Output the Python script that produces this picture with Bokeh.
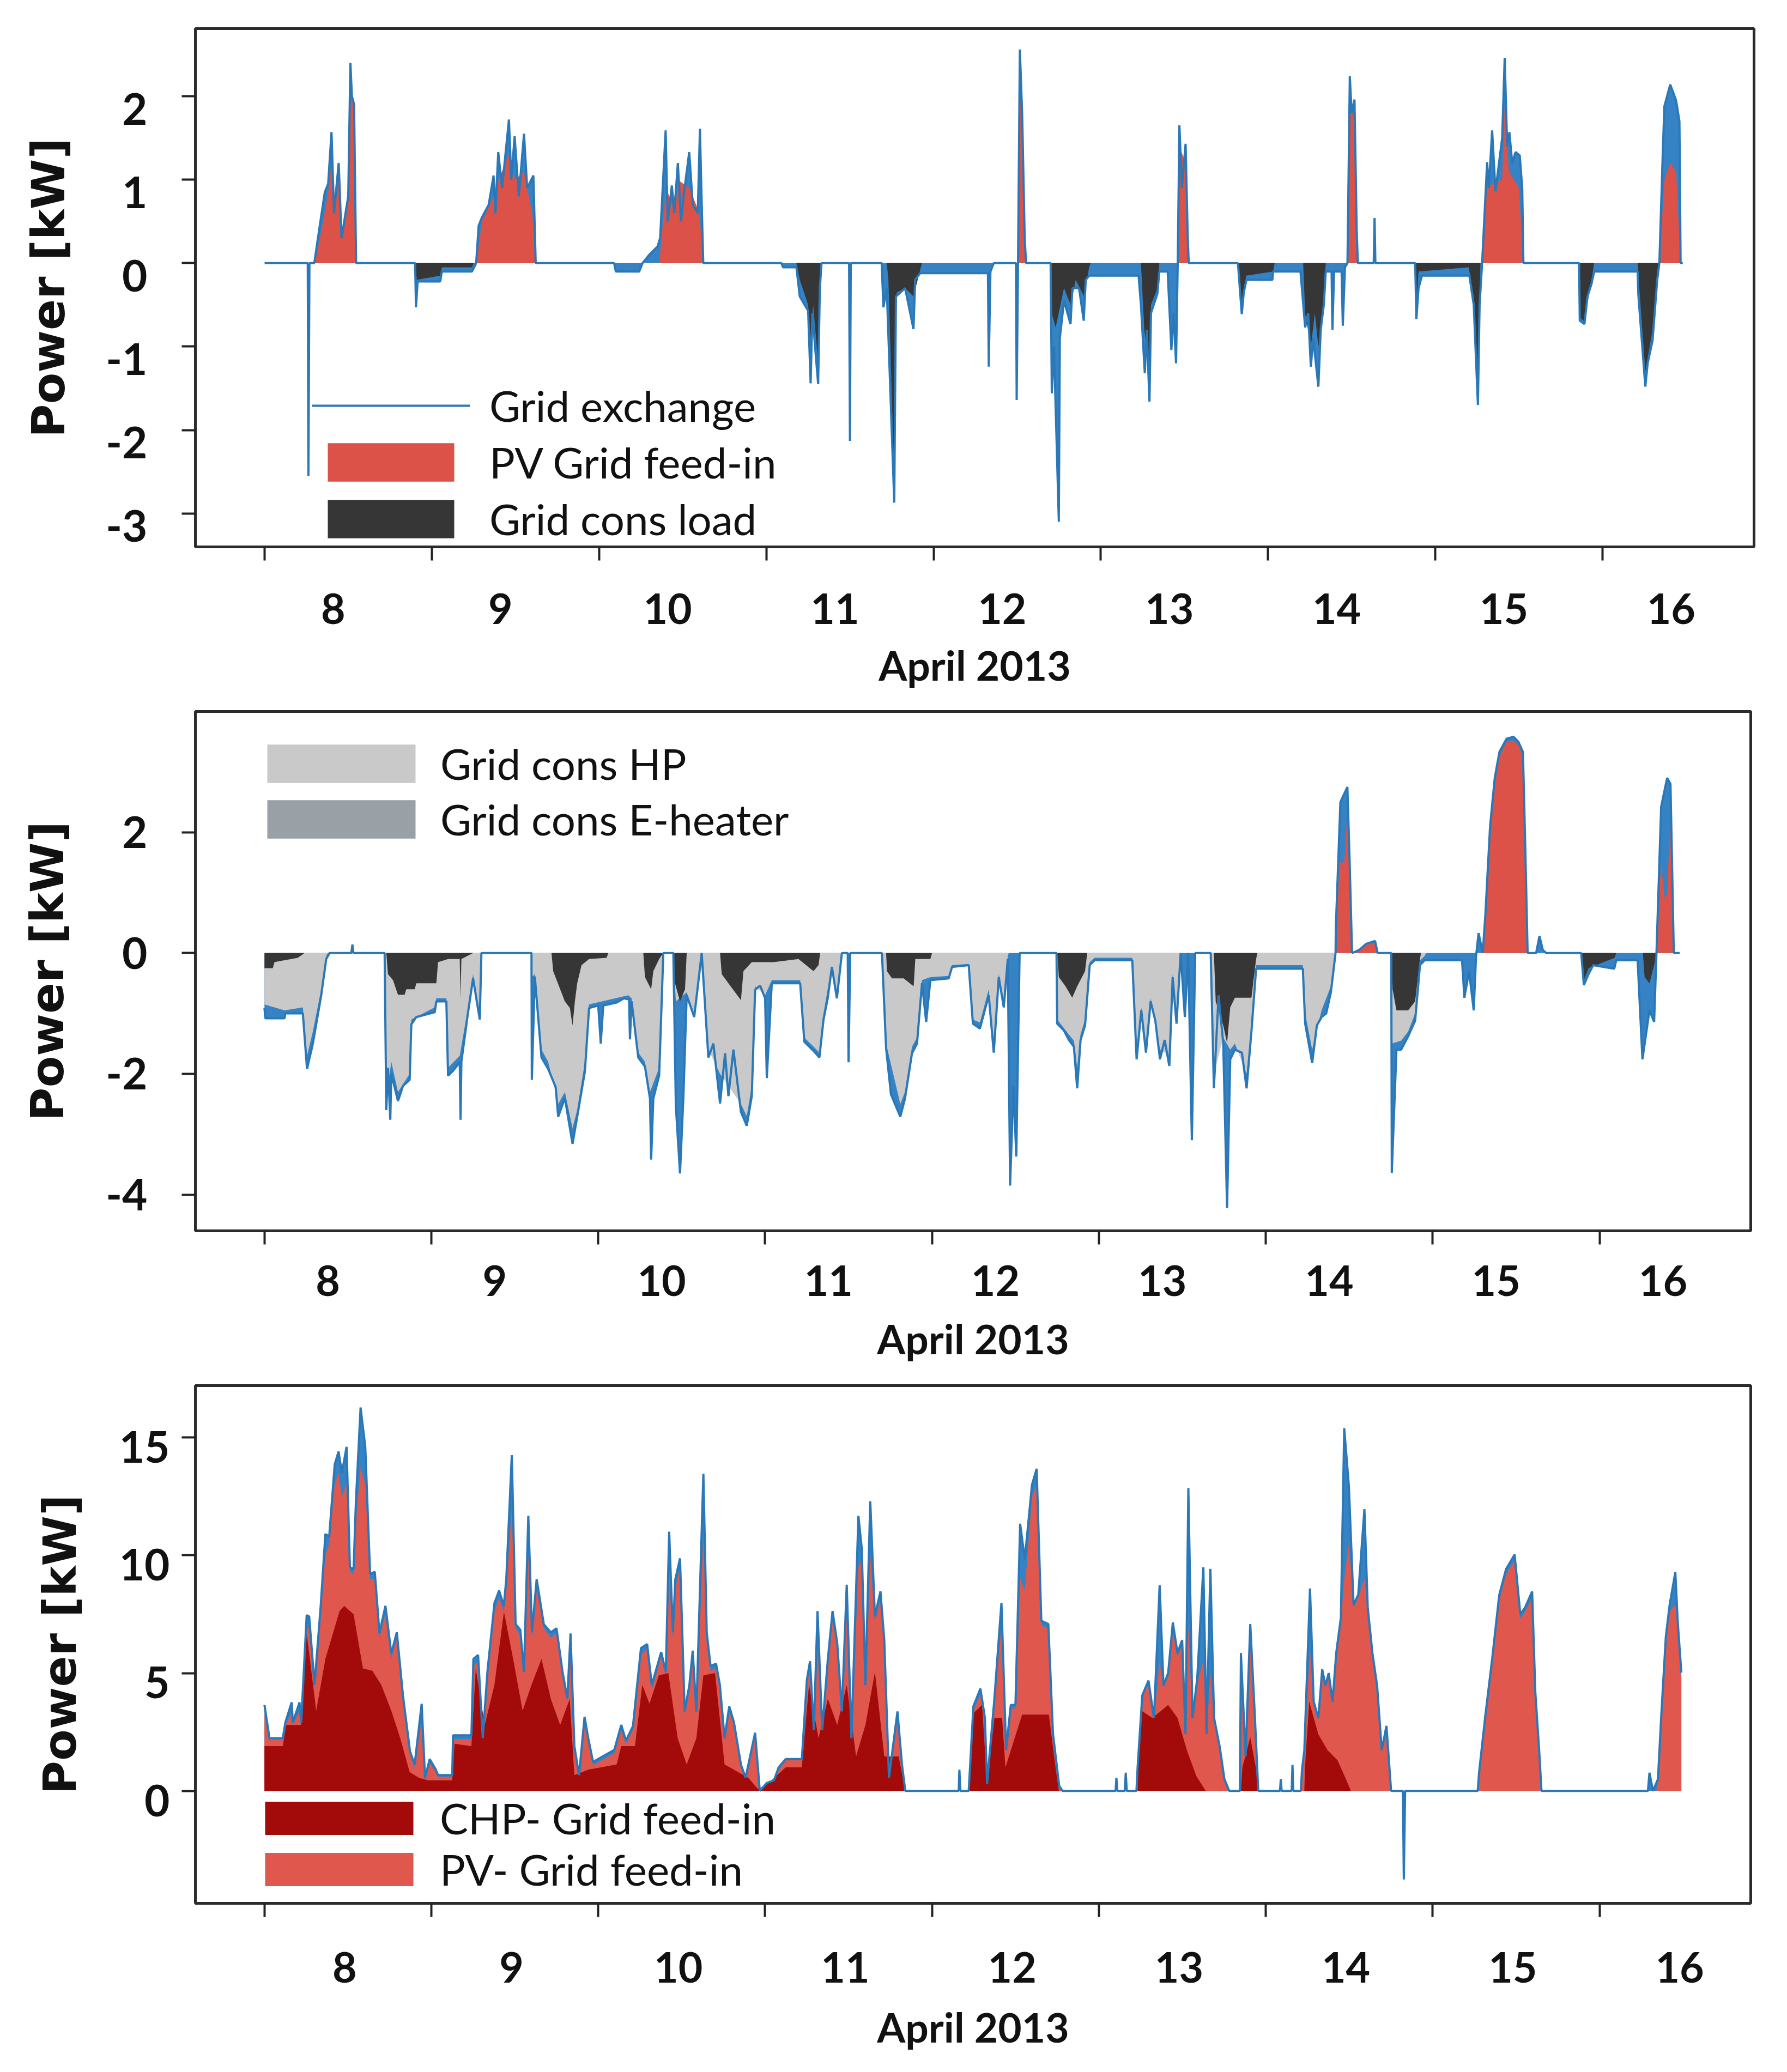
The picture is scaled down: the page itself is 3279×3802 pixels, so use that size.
from bokeh.plotting import figure
from bokeh.layouts import column
from bokeh.models import (FixedTicker, CustomJSTickFormatter, Legend, LegendItem,
                          ColumnDataSource, Range1d)
from bokeh.embed import file_html
from bokeh.resources import INLINE

# ---------------- data (time in days of April 2013, power in kW) ----------------
DAYS = [8, 9, 10, 11, 12, 13, 14, 15, 16]

TOP_EXCHANGE = [(8.00,0),(8.258,0),(8.262,-2.55),(8.268,0),(8.297,0),(8.33,0.45),(8.36,0.85),(8.38,0.95),(8.40,1.57),(8.415,0.6),(8.443,1.2),(8.46,0.3),(8.50,0.8),(8.513,2.40),(8.522,2.0),(8.535,1.9),(8.547,0),(8.90,0),(8.905,-0.53),(8.915,-0.22),(9.05,-0.22),(9.06,-0.1),(9.24,-0.1),(9.265,0),(9.28,0.45),(9.30,0.55),(9.34,0.7),(9.369,1.05),(9.38,0.6),(9.397,1.33),(9.42,0.9),(9.461,1.72),(9.475,1.0),(9.495,1.52),(9.52,0.8),(9.551,1.55),(9.57,0.9),(9.607,1.05),(9.621,0),(10.09,0),(10.10,-0.1),(10.24,-0.1),(10.26,0),(10.30,0.1),(10.35,0.2),(10.365,0.3),(10.398,1.59),(10.41,0.5),(10.435,0.93),(10.45,0.6),(10.471,1.2),(10.49,0.5),(10.505,0.8),(10.539,1.33),(10.56,0.7),(10.59,0.6),(10.603,1.61),(10.615,0.6),(10.623,0),(11.09,0),(11.10,-0.05),(11.18,-0.05),(11.20,-0.4),(11.25,-0.57),(11.265,-1.44),(11.275,-0.6),(11.31,-1.45),(11.32,-0.3),(11.33,0),(11.495,0),(11.50,-2.13),(11.505,0),(11.69,0),(11.70,-0.53),(11.72,-0.3),(11.765,-2.87),(11.775,-0.4),(11.83,-0.3),(11.88,-0.79),(11.89,-0.2),(11.92,-0.12),(12.325,-0.12),(12.33,-1.24),(12.34,-0.1),(12.36,0),(12.493,0),(12.497,-1.64),(12.505,0),(12.516,2.56),(12.53,1.77),(12.545,0.3),(12.553,0),(12.70,0),(12.707,-1.56),(12.72,-1.0),(12.749,-3.1),(12.755,-0.9),(12.78,-0.45),(12.819,-0.73),(12.83,-0.3),(12.87,-0.3),(12.898,-0.69),(12.91,-0.2),(12.931,-0.15),(13.226,-0.15),(13.24,-0.5),(13.263,-1.32),(13.275,-0.8),(13.291,-1.66),(13.30,-0.6),(13.338,-0.37),(13.35,-0.1),(13.40,-0.1),(13.422,-1.04),(13.435,-0.6),(13.45,-1.2),(13.46,0),(13.47,1.65),(13.485,0.9),(13.507,1.43),(13.52,0.3),(13.526,0),(13.82,0),(13.843,-0.61),(13.855,-0.35),(13.871,-0.2),(14.026,-0.2),(14.03,-0.1),(14.194,-0.1),(14.222,-0.77),(14.24,-0.6),(14.256,-1.24),(14.27,-0.9),(14.301,-1.48),(14.315,-0.8),(14.334,-0.49),(14.345,-0.1),(14.38,-0.1),(14.385,-0.8),(14.395,-0.1),(14.44,-0.1),(14.447,-0.75),(14.46,-0.05),(14.475,0),(14.489,2.24),(14.50,1.8),(14.517,1.96),(14.53,0.4),(14.537,0),(14.632,0),(14.637,0.54),(14.642,0),(14.88,0),(14.887,-0.67),(14.90,-0.3),(14.92,-0.15),(15.204,-0.15),(15.23,-0.5),(15.255,-1.70),(15.265,-0.5),(15.28,0),(15.29,0.4),(15.31,1.21),(15.32,0.9),(15.34,1.59),(15.36,0.86),(15.40,1.5),(15.415,2.46),(15.43,1.4),(15.443,1.57),(15.46,1.2),(15.48,1.33),(15.505,1.29),(15.52,0.9),(15.527,0),(15.86,0),(15.864,-0.69),(15.892,-0.73),(15.91,-0.4),(15.934,-0.25),(15.95,-0.1),(16.21,-0.1),(16.214,-0.37),(16.256,-1.48),(16.27,-1.2),(16.299,-0.93),(16.327,-0.2),(16.34,0),(16.36,1.3),(16.37,1.88),(16.405,2.14),(16.44,1.95),(16.46,1.7),(16.467,0),(16.48,0)]

TOP_PV_FEEDIN = [(8.30,0),(8.35,0.5),(8.38,0.85),(8.40,1.2),(8.42,0.6),(8.443,1.1),(8.46,0.3),(8.50,0.7),(8.513,2.2),(8.535,1.8),(8.547,0),(9.265,0),(9.30,0.5),(9.37,0.8),(9.40,1.0),(9.46,1.3),(9.50,1.0),(9.55,1.1),(9.60,0.6),(9.621,0),(10.36,0),(10.40,0.9),(10.44,0.7),(10.47,1.0),(10.54,0.9),(10.60,0.6),(10.623,0),(12.505,0),(12.516,2.3),(12.53,1.5),(12.553,0),(13.46,0),(13.47,1.4),(13.507,1.2),(13.526,0),(14.475,0),(14.489,2.0),(14.517,1.7),(14.537,0),(15.28,0),(15.30,0.9),(15.34,0.95),(15.40,1.0),(15.415,1.9),(15.44,1.1),(15.50,0.9),(15.527,0),(16.34,0),(16.37,1.0),(16.405,1.2),(16.44,1.1),(16.467,0)]

TOP_CONS_LOAD = [(8.90,0),(8.91,-0.2),(9.05,-0.15),(9.06,-0.05),(9.24,-0.05),(9.25,0),(11.18,0),(11.20,-0.2),(11.25,-0.5),(11.265,-0.9),(11.28,-0.5),(11.31,-1.2),(11.32,-0.2),(11.33,0),(11.72,0),(11.73,-0.2),(11.765,-2.6),(11.78,-0.35),(11.83,-0.3),(11.88,-0.4),(11.92,-0.08),(11.93,0),(12.70,0),(12.707,-0.6),(12.73,-0.77),(12.78,-0.3),(12.82,-0.5),(12.85,-0.2),(12.90,-0.4),(12.93,-0.05),(12.94,0),(13.24,0),(13.26,-0.8),(13.29,-1.3),(13.30,-0.5),(13.34,-0.3),(13.35,0),(13.82,0),(13.843,-0.45),(13.87,-0.15),(14.03,-0.1),(14.04,0),(14.21,0),(14.222,-0.6),(14.256,-1.0),(14.28,-0.6),(14.301,-1.0),(14.334,-0.4),(14.345,0),(14.88,0),(14.887,-0.5),(14.90,-0.1),(15.20,-0.05),(15.23,-0.4),(15.255,-1.3),(15.27,0),(15.86,0),(15.864,-0.65),(15.892,-0.7),(15.934,-0.2),(15.95,0),(16.21,0),(16.22,-0.3),(16.256,-1.3),(16.299,-0.8),(16.327,-0.15),(16.34,0)]

MID_EXCHANGE = [(8.00,-0.91),(8.005,-1.08),(8.12,-1.08),(8.125,-1.0),(8.23,-1.0),(8.255,-1.92),(8.29,-1.5),(8.34,-0.7),(8.37,-0.1),(8.39,0),(8.52,0),(8.527,0.14),(8.533,0),(8.72,0),(8.73,-2.6),(8.74,-1.9),(8.754,-2.76),(8.76,-2.0),(8.80,-2.45),(8.83,-2.2),(8.87,-2.1),(8.88,-1.18),(8.91,-1.06),(9.02,-0.98),(9.03,-0.8),(9.09,-0.8),(9.10,-2.03),(9.13,-1.95),(9.17,-1.81),(9.175,-2.76),(9.18,-1.8),(9.22,-0.98),(9.25,-0.42),(9.29,-1.1),(9.30,0),(9.60,0),(9.602,-2.1),(9.62,-0.39),(9.66,-1.73),(9.70,-1.92),(9.745,-2.22),(9.76,-2.71),(9.80,-2.4),(9.846,-3.16),(9.874,-2.71),(9.92,-1.96),(9.945,-0.91),(10.0,-0.87),(10.015,-1.5),(10.03,-0.87),(10.11,-0.82),(10.155,-0.75),(10.185,-0.77),(10.19,-1.43),(10.20,-0.8),(10.24,-1.73),(10.28,-1.88),(10.31,-2.41),(10.317,-3.42),(10.33,-2.41),(10.365,-2.03),(10.39,0),(10.45,0),(10.465,-2.53),(10.49,-3.65),(10.51,-2.4),(10.53,-0.7),(10.575,-1.06),(10.62,0),(10.66,-1.73),(10.69,-1.5),(10.73,-2.49),(10.76,-1.66),(10.78,-2.37),(10.81,-1.6),(10.855,-2.63),(10.89,-2.86),(10.92,-2.37),(10.94,-0.61),(10.97,-0.54),(11.0,-0.75),(11.01,-2.07),(11.04,-0.5),(11.21,-0.5),(11.235,-1.47),(11.29,-1.62),(11.325,-1.73),(11.35,-1.1),(11.375,-0.75),(11.40,-0.23),(11.43,-0.75),(11.46,0),(11.495,0),(11.50,-1.81),(11.51,0),(11.70,0),(11.725,-1.58),(11.754,-2.34),(11.81,-2.71),(11.838,-2.41),(11.88,-1.66),(11.91,-1.5),(11.94,-0.5),(11.965,-1.14),(11.99,-0.45),(12.10,-0.42),(12.12,-0.23),(12.22,-0.2),(12.245,-1.17),(12.287,-1.25),(12.34,-0.7),(12.37,-1.65),(12.40,-0.4),(12.43,-0.9),(12.454,-0.1),(12.468,-3.85),(12.488,-2.2),(12.505,-3.37),(12.525,0),(12.746,0),(12.75,-1.17),(12.79,-1.28),(12.82,-1.44),(12.85,-1.55),(12.87,-2.24),(12.89,-1.44),(12.917,-1.2),(12.945,-0.2),(12.974,-0.12),(13.20,-0.12),(13.226,-1.76),(13.254,-0.95),(13.282,-1.65),(13.31,-0.8),(13.338,-1.12),(13.366,-1.76),(13.394,-1.44),(13.422,-1.87),(13.442,-0.4),(13.465,-1.17),(13.49,0),(13.515,-1.06),(13.535,0),(13.557,-3.1),(13.577,0),(13.67,0),(13.689,-2.24),(13.717,-0.7),(13.745,-1.49),(13.768,-4.22),(13.787,-1.76),(13.815,-1.6),(13.857,-1.65),(13.885,-2.24),(13.914,-1.3),(13.942,-0.26),(14.222,-0.26),(14.236,-1.17),(14.278,-1.82),(14.306,-1.2),(14.334,-1.06),(14.362,-1.0),(14.39,-0.65),(14.418,0),(14.42,0.44),(14.447,2.5),(14.489,2.75),(14.503,1.46),(14.517,0),(14.56,0.05),(14.60,0.15),(14.655,0.2),(14.67,0),(14.752,0),(14.755,-3.64),(14.783,-1.6),(14.811,-1.6),(14.853,-1.38),(14.895,-1.12),(14.924,-0.2),(14.952,-0.12),(15.176,-0.12),(15.19,-0.74),(15.218,-0.3),(15.246,-0.95),(15.26,-0.05),(15.275,0.33),(15.30,0),(15.316,0.65),(15.344,2.1),(15.372,2.9),(15.40,3.33),(15.443,3.55),(15.485,3.58),(15.513,3.5),(15.541,3.33),(15.555,1.73),(15.569,0),(15.62,0),(15.64,0.28),(15.66,0.05),(15.68,0),(15.89,0),(15.906,-0.53),(15.934,-0.35),(15.962,-0.2),(16.088,-0.26),(16.10,-0.12),(16.228,-0.12),(16.257,-1.76),(16.299,-0.95),(16.327,-1.14),(16.341,0),(16.369,2.42),(16.405,2.9),(16.425,2.8),(16.445,0),(16.48,0)]

# lower edge of the light-grey heat-pump band (stacked below the E-heater band)
MID_CONS_HP = [(8.00,-0.85),(8.12,-0.95),(8.23,-0.9),(8.255,-1.7),(8.29,-1.3),(8.34,-0.6),(8.37,-0.05),(8.38,0),(8.72,0),(8.73,-2.4),(8.76,-1.8),(8.80,-2.3),(8.87,-2.0),(8.88,-1.1),(9.02,-0.9),(9.03,-0.75),(9.09,-0.75),(9.10,-1.9),(9.17,-1.7),(9.22,-0.9),(9.25,-0.35),(9.29,-1.0),(9.30,0),(9.60,0),(9.602,-0.4),(9.62,-0.35),(9.66,-1.6),(9.70,-1.8),(9.76,-2.5),(9.80,-2.3),(9.846,-2.9),(9.874,-2.6),(9.92,-1.8),(9.945,-0.85),(10.18,-0.7),(10.20,-0.75),(10.24,-1.65),(10.28,-1.8),(10.31,-2.3),(10.365,-1.9),(10.39,0),(10.45,0),(10.465,-0.8),(10.53,-0.65),(10.575,-1.0),(10.62,0),(10.66,-1.6),(10.73,-2.0),(10.78,-2.2),(10.855,-2.5),(10.89,-2.7),(10.92,-2.2),(10.94,-0.55),(11.0,-0.7),(11.04,-0.45),(11.21,-0.45),(11.235,-1.4),(11.29,-1.55),(11.325,-1.65),(11.35,-1.0),(11.40,-0.2),(11.43,-0.7),(11.46,0),(11.70,0),(11.725,-1.5),(11.81,-2.5),(11.838,-2.3),(11.88,-1.55),(11.91,-1.4),(11.94,-0.45),(11.99,-0.4),(12.10,-0.38),(12.12,-0.2),(12.22,-0.18),(12.245,-1.1),(12.287,-1.15),(12.34,-0.6),(12.37,-1.5),(12.40,-0.35),(12.43,-0.8),(12.454,-0.05),(12.46,0),(12.746,0),(12.75,-1.1),(12.82,-1.35),(12.85,-1.45),(12.87,-1.9),(12.89,-1.35),(12.917,-1.1),(12.945,-0.15),(12.974,-0.08),(13.20,-0.08),(13.226,-1.6),(13.254,-0.9),(13.282,-1.5),(13.31,-0.75),(13.366,-1.6),(13.422,-1.7),(13.442,-0.35),(13.465,-1.0),(13.49,0),(13.67,0),(13.689,-2.0),(13.745,-1.4),(13.787,-1.6),(13.815,-1.5),(13.885,-2.0),(13.914,-1.2),(13.942,-0.2),(14.222,-0.2),(14.236,-1.0),(14.278,-1.6),(14.334,-0.95),(14.39,-0.55),(14.418,0),(14.752,0),(14.755,-1.5),(14.811,-1.45),(14.853,-1.3),(14.895,-1.0),(14.924,-0.12),(14.952,-0.05),(14.96,0)]

MID_CONS_EHEATER = [(8.00,-0.25),(8.05,-0.25),(8.06,-0.15),(8.12,-0.12),(8.20,-0.08),(8.24,0),(8.73,0),(8.74,-0.35),(8.77,-0.45),(8.80,-0.69),(8.84,-0.69),(8.85,-0.6),(8.90,-0.6),(8.91,-0.5),(9.03,-0.5),(9.04,-0.15),(9.10,-0.1),(9.17,-0.1),(9.175,-0.75),(9.18,-0.1),(9.25,0),(9.72,0),(9.73,-0.3),(9.80,-0.8),(9.83,-0.91),(9.846,-1.2),(9.86,-0.8),(9.874,-0.5),(9.90,-0.2),(9.945,-0.1),(10.05,-0.08),(10.06,0),(10.27,0),(10.28,-0.4),(10.317,-0.6),(10.33,-0.3),(10.365,-0.1),(10.39,0),(10.45,0),(10.46,-0.5),(10.49,-0.8),(10.52,-0.6),(10.53,0),(10.73,0),(10.74,-0.35),(10.78,-0.5),(10.855,-0.78),(10.87,-0.3),(10.92,-0.15),(11.05,-0.15),(11.20,-0.1),(11.29,-0.3),(11.32,-0.2),(11.33,0),(11.725,0),(11.73,-0.3),(11.76,-0.42),(11.83,-0.42),(11.89,-0.55),(11.90,-0.1),(11.99,-0.1),(12.0,0),(12.75,0),(12.76,-0.4),(12.80,-0.55),(12.84,-0.74),(12.87,-0.55),(12.917,-0.3),(12.93,0),(13.689,0),(13.70,-0.8),(13.745,-1.2),(13.768,-1.49),(13.787,-0.9),(13.815,-0.74),(13.914,-0.74),(13.942,-0.1),(13.95,0),(14.755,0),(14.76,-0.6),(14.783,-0.95),(14.853,-0.95),(14.895,-0.8),(14.924,-0.1),(14.93,0),(15.89,0),(15.906,-0.45),(15.934,-0.25),(16.09,-0.08),(16.10,0),(16.26,0),(16.27,-0.4),(16.299,-0.5),(16.327,-0.2),(16.34,0)]

MID_PV_FEEDIN = [(14.42,0),(14.44,1.5),(14.47,1.5),(14.489,2.3),(14.503,1.46),(14.517,0),(14.56,0.05),(14.60,0.15),(14.655,0.2),(14.67,0),(15.30,0),(15.316,0.6),(15.344,2.0),(15.372,2.8),(15.40,3.25),(15.443,3.5),(15.485,3.52),(15.513,3.45),(15.541,3.25),(15.555,1.7),(15.569,0),(16.341,0),(16.369,1.5),(16.39,0.9),(16.405,1.0),(16.43,2.6),(16.445,0)]

BOT_TOTAL = [(8.00,3.65),(8.03,2.24),(8.11,2.24),(8.125,2.9),(8.163,3.76),(8.17,2.9),(8.21,3.76),(8.22,2.9),(8.253,7.46),(8.268,7.4),(8.30,4.5),(8.337,7.85),(8.365,10.9),(8.388,10.8),(8.421,13.86),(8.444,14.4),(8.464,13.5),(8.492,14.6),(8.512,9.5),(8.534,9.4),(8.548,12.3),(8.576,16.27),(8.604,14.6),(8.633,9.2),(8.661,9.3),(8.689,6.7),(8.725,7.85),(8.76,5.83),(8.793,6.73),(8.83,4.04),(8.872,1.68),(8.90,1.12),(8.942,3.7),(8.962,0.56),(8.99,1.35),(9.027,0.9),(9.04,0.67),(9.125,0.67),(9.13,2.36),(9.24,2.36),(9.252,5.6),(9.28,5.77),(9.308,2.24),(9.336,5.05),(9.378,7.97),(9.406,8.5),(9.434,7.85),(9.449,8.98),(9.482,14.25),(9.505,7.07),(9.533,6.84),(9.555,5.05),(9.581,11.67),(9.603,6.73),(9.631,8.98),(9.674,7.07),(9.716,6.73),(9.75,6.9),(9.786,5.05),(9.815,3.93),(9.834,6.68),(9.857,1.9),(9.885,0.67),(9.918,3.14),(9.94,2.24),(9.969,1.23),(10.096,1.74),(10.138,2.8),(10.166,2.13),(10.208,2.75),(10.256,6.06),(10.293,6.23),(10.321,4.49),(10.377,5.89),(10.405,5.05),(10.425,11.0),(10.447,6.73),(10.462,8.98),(10.49,9.87),(10.518,3.37),(10.546,4.49),(10.566,5.95),(10.588,3.37),(10.63,13.46),(10.65,6.73),(10.673,5.3),(10.706,5.4),(10.729,4.49),(10.757,2.24),(10.785,3.59),(10.813,2.92),(10.855,1.12),(10.883,0.56),(10.94,2.47),(10.968,0),(11.01,0.34),(11.053,0.45),(11.081,1.0),(11.123,1.35),(11.22,1.35),(11.25,4.7),(11.269,5.5),(11.292,2.58),(11.314,7.63),(11.342,2.58),(11.376,5.6),(11.404,7.63),(11.432,6.28),(11.46,3.37),(11.489,8.75),(11.517,2.24),(11.559,11.67),(11.579,10.3),(11.601,4.49),(11.63,12.29),(11.658,7.4),(11.691,8.47),(11.714,6.4),(11.742,0.56),(11.793,3.37),(11.82,1.12),(11.84,0),(12.16,0),(12.164,0.9),(12.17,0),(12.22,0),(12.248,3.59),(12.29,4.34),(12.317,3.1),(12.33,0.3),(12.374,3.93),(12.416,7.98),(12.444,1.73),(12.472,3.65),(12.5,3.65),(12.528,11.34),(12.556,9.83),(12.599,12.99),(12.627,13.67),(12.655,7.22),(12.697,7.08),(12.725,2.42),(12.762,0.22),(12.782,0),(13.10,0),(13.105,0.56),(13.11,0),(13.155,0),(13.161,0.77),(13.167,0),(13.225,0),(13.232,1.0),(13.26,4.06),(13.297,4.68),(13.33,3.10),(13.364,8.73),(13.387,4.47),(13.415,5.0),(13.443,7.15),(13.471,5.85),(13.499,6.4),(13.519,2.42),(13.536,12.85),(13.561,3.1),(13.589,4.75),(13.626,9.49),(13.645,2.42),(13.668,9.42),(13.69,3.1),(13.724,1.87),(13.752,0.5),(13.781,0),(13.845,0),(13.851,5.85),(13.879,1.46),(13.907,7.08),(13.935,3.1),(13.955,0),(14.085,0),(14.09,0.5),(14.095,0),(14.155,0),(14.16,1.1),(14.165,0),(14.21,0),(14.217,0.9),(14.231,1.73),(14.265,8.59),(14.287,3.79),(14.315,3.1),(14.338,5.16),(14.358,4.47),(14.377,5.0),(14.4,3.79),(14.422,5.85),(14.45,7.36),(14.47,15.39),(14.498,12.92),(14.526,7.9),(14.554,8.32),(14.591,11.96),(14.611,7.77),(14.639,5.85),(14.667,4.47),(14.695,1.73),(14.723,2.76),(14.751,0),(14.822,0),(14.827,-3.76),(14.835,0),(15.27,0),(15.278,0.77),(15.314,3.1),(15.356,5.57),(15.399,8.32),(15.44,9.42),(15.491,10.03),(15.525,7.5),(15.553,7.77),(15.596,8.46),(15.615,4.2),(15.638,1.73),(15.652,0),(16.29,0),(16.299,0.77),(16.32,0),(16.35,0.5),(16.369,3.1),(16.397,6.53),(16.42,7.9),(16.454,9.28),(16.468,7.22),(16.49,5.02)]

# upper edge of the PV feed-in band, stacked on top of the CHP feed-in
BOT_PV_STACK_TOP = [(8.00,3.3),(8.03,2.2),(8.11,2.2),(8.125,2.8),(8.163,3.3),(8.17,2.8),(8.21,3.4),(8.22,2.8),(8.253,6.8),(8.268,7.0),(8.30,4.4),(8.337,7.5),(8.365,10.0),(8.388,10.5),(8.421,13.0),(8.444,13.5),(8.464,12.5),(8.492,13.0),(8.512,9.3),(8.534,9.2),(8.548,11.5),(8.576,13.7),(8.604,13.0),(8.633,9.0),(8.661,9.0),(8.689,6.5),(8.725,7.5),(8.76,5.6),(8.793,6.5),(8.83,3.9),(8.872,1.6),(8.90,1.0),(8.942,3.0),(8.962,0.5),(8.99,1.2),(9.027,0.8),(9.04,0.6),(9.125,0.6),(9.13,2.2),(9.24,2.2),(9.252,5.3),(9.28,5.5),(9.308,2.2),(9.336,4.9),(9.378,7.6),(9.406,8.2),(9.434,7.6),(9.449,8.7),(9.482,12.0),(9.505,6.9),(9.533,6.6),(9.555,4.9),(9.581,10.0),(9.603,6.5),(9.631,8.7),(9.674,6.9),(9.716,6.5),(9.75,6.7),(9.786,4.9),(9.815,3.8),(9.834,6.4),(9.857,1.8),(9.885,0.6),(9.918,2.9),(9.94,2.1),(9.969,1.1),(10.096,1.6),(10.138,2.6),(10.166,2.0),(10.208,2.6),(10.256,5.8),(10.293,6.0),(10.321,4.3),(10.377,5.7),(10.405,4.9),(10.425,9.5),(10.447,6.5),(10.462,8.6),(10.49,9.5),(10.518,3.3),(10.546,4.3),(10.566,5.7),(10.588,3.3),(10.63,11.0),(10.65,6.5),(10.673,5.1),(10.706,5.2),(10.729,4.3),(10.757,2.2),(10.785,3.4),(10.813,2.8),(10.855,1.1),(10.883,0.5),(10.94,2.3),(10.968,0),(11.01,0.3),(11.053,0.4),(11.081,0.9),(11.123,1.3),(11.22,1.3),(11.25,4.5),(11.269,5.3),(11.292,2.5),(11.314,7.0),(11.342,2.5),(11.376,5.4),(11.404,7.3),(11.432,6.1),(11.46,3.3),(11.489,8.2),(11.517,2.2),(11.559,9.5),(11.579,9.8),(11.601,4.4),(11.63,10.0),(11.658,7.2),(11.691,8.2),(11.714,6.2),(11.742,0.5),(11.793,3.2),(11.82,1.1),(11.84,0),(12.22,0),(12.248,3.4),(12.29,4.1),(12.317,3.0),(12.33,0.3),(12.374,3.7),(12.416,7.0),(12.444,1.7),(12.472,3.5),(12.5,3.5),(12.528,9.0),(12.556,8.5),(12.599,12.5),(12.627,13.0),(12.655,7.0),(12.697,6.9),(12.725,2.3),(12.762,0.2),(12.782,0),(13.225,0),(13.232,0.9),(13.26,4.0),(13.297,4.6),(13.33,3.0),(13.364,5.5),(13.387,4.4),(13.415,4.9),(13.443,6.8),(13.471,5.7),(13.499,6.2),(13.519,2.4),(13.536,7.0),(13.561,3.0),(13.589,4.6),(13.626,5.5),(13.645,2.4),(13.668,5.0),(13.69,3.0),(13.724,1.8),(13.752,0.5),(13.781,0),(13.845,0),(13.851,5.0),(13.879,1.4),(13.907,6.5),(13.935,3.0),(13.955,0),(14.21,0),(14.231,1.7),(14.265,6.0),(14.287,3.7),(14.315,3.0),(14.338,5.0),(14.358,4.4),(14.377,4.9),(14.4,3.7),(14.422,5.7),(14.45,7.2),(14.47,9.0),(14.498,10.5),(14.526,7.8),(14.554,8.2),(14.591,9.0),(14.611,7.6),(14.639,5.7),(14.667,4.4),(14.695,1.7),(14.723,2.7),(14.751,0),(15.27,0),(15.278,0.7),(15.314,3.0),(15.356,5.4),(15.399,8.1),(15.44,9.2),(15.491,9.8),(15.525,7.3),(15.553,7.6),(15.596,8.2),(15.615,4.1),(15.638,1.6),(15.652,0),(16.34,0),(16.35,0.4),(16.369,3.0),(16.397,6.3),(16.42,7.6),(16.454,7.9),(16.468,7.0),(16.49,4.8)]

BOT_CHP_FEEDIN = [(8.00,1.9),(8.11,1.9),(8.13,2.8),(8.22,2.8),(8.253,6.7),(8.31,3.4),(8.365,5.6),(8.45,7.63),(8.478,7.85),(8.534,7.5),(8.59,5.2),(8.646,5.1),(8.70,4.5),(8.76,3.4),(8.815,2.2),(8.87,0.8),(8.925,0.56),(8.98,0.45),(9.125,0.45),(9.139,2.0),(9.24,1.9),(9.266,5.2),(9.32,2.8),(9.378,4.5),(9.435,7.6),(9.49,5.6),(9.547,3.4),(9.60,4.5),(9.66,5.6),(9.716,3.9),(9.772,2.8),(9.829,3.9),(9.857,0.67),(9.94,0.9),(10.11,1.12),(10.138,1.9),(10.22,1.9),(10.264,4.5),(10.307,3.7),(10.363,4.9),(10.42,5.0),(10.476,2.24),(10.53,1.12),(10.588,2.24),(10.63,4.9),(10.70,5.0),(10.757,1.12),(10.813,0.9),(10.898,0.56),(10.955,0.1),(11.0,0.2),(11.123,1.0),(11.22,1.0),(11.263,4.5),(11.32,2.24),(11.376,3.9),(11.432,2.8),(11.489,4.5),(11.545,1.46),(11.601,2.8),(11.658,5.05),(11.714,1.46),(11.80,1.46),(11.84,0),(12.22,0),(12.248,3.3),(12.30,3.65),(12.33,0.3),(12.374,3.1),(12.42,3.1),(12.44,1.0),(12.54,3.24),(12.70,3.24),(12.74,1.0),(12.76,0),(13.232,0),(13.245,3.0),(13.26,3.38),(13.32,3.1),(13.37,3.38),(13.415,3.65),(13.471,3.1),(13.527,1.73),(13.584,0.63),(13.64,0),(13.851,0),(13.86,1.0),(13.907,2.28),(13.94,1.0),(13.955,0),(14.231,0),(14.235,1.0),(14.26,3.79),(14.315,2.4),(14.37,1.73),(14.43,1.3),(14.48,0.5),(14.51,0)]

# ---------------- styling ----------------
BLUE = "#2a78b8"
BLUE_FILL = "#3583c4"
RED = "#dc5248"
DARK = "#363636"
HP_GRAY = "#c9c9c9"
EH_GRAY = "#99a1a6"
CHP_RED = "#a30a0a"
PV_RED = "#e0574e"
TICK_FONT = "Lato"
X_RANGE = (7.586, 16.906)


def src(pairs):
    t, v = zip(*pairs)
    return ColumnDataSource(dict(t=list(t), v=list(v)))


def area(p, pairs, color):
    return p.varea(x="t", y1=0, y2="v", source=src(pairs), fill_color=color, fill_alpha=1.0)


def make_fig(left, top, fw, fh, bottom, yr, yticks, yoff, label_off, ystand, ylab_stand,
             xstand, xlab_stand):
    p = figure(frame_width=fw, frame_height=fh, x_range=Range1d(*X_RANGE),
               y_range=Range1d(*yr), output_backend="svg", toolbar_location=None,
               min_border_left=left, min_border_top=top, min_border_bottom=bottom,
               min_border_right=20, background_fill_color="white",
               border_fill_color="white")
    p.grid.visible = False
    p.outline_line_color = "#2b2b2b"
    p.outline_line_width = 5

    xa = p.xaxis[0]
    xa.ticker = FixedTicker(ticks=[d + label_off for d in DAYS], minor_ticks=DAYS)
    xa.formatter = CustomJSTickFormatter(code="return Math.floor(tick + 1e-6).toString();")
    xa.major_tick_line_color = None
    xa.major_tick_out = 25
    xa.major_tick_in = 0
    xa.minor_tick_out = 25
    xa.minor_tick_in = 0
    xa.minor_tick_line_color = "#222222"
    xa.minor_tick_line_width = 4
    xa.axis_line_color = None
    xa.major_label_text_font = TICK_FONT
    xa.major_label_text_font_style = "bold"
    xa.major_label_text_font_size = "77px"
    xa.major_label_text_color = "#111111"
    xa.major_label_standoff = xstand
    xa.axis_label = "April 2013"
    xa.axis_label_text_font = TICK_FONT
    xa.axis_label_text_font_style = "bold"
    xa.axis_label_text_font_size = "75px"
    xa.axis_label_text_color = "#111111"
    xa.axis_label_standoff = xlab_stand

    ya = p.yaxis[0]
    # labels sit slightly below their tick marks, as in the reference
    ya.ticker = FixedTicker(ticks=[v - yoff for v in yticks], minor_ticks=yticks)
    ya.formatter = CustomJSTickFormatter(code="return Math.round(tick + %r).toString();" % yoff)
    ya.major_tick_out = 25
    ya.major_tick_in = 0
    ya.major_tick_line_color = None
    ya.minor_tick_out = 25
    ya.minor_tick_in = 0
    ya.minor_tick_line_width = 4
    ya.minor_tick_line_color = "#222222"
    ya.axis_line_color = None
    ya.major_label_text_font = TICK_FONT
    ya.major_label_text_font_style = "bold"
    ya.major_label_text_font_size = "80px"
    ya.major_label_text_color = "#111111"
    ya.major_label_standoff = ystand
    ya.axis_label = "Power [kW]"
    ya.axis_label_text_font = "DejaVu Sans"
    ya.axis_label_text_font_style = "bold"
    ya.axis_label_text_font_size = "84px"
    ya.axis_label_text_color = "#111111"
    ya.axis_label_standoff = ylab_stand
    return p


def add_legend(p, items, loc, gw, gh, standoff, spacing):
    leg = Legend(items=items, location=loc, orientation="vertical",
                 label_text_font=TICK_FONT, label_text_font_size="78px",
                 label_text_color="#111111", glyph_width=gw, glyph_height=gh,
                 label_standoff=standoff, spacing=spacing, padding=0, margin=0,
                 border_line_color=None, background_fill_alpha=0.0)
    p.add_layout(leg, "center")


# ---------------- panel 1 ----------------
p1 = make_fig(352, 52, 2860, 951, 285, (-3.40, 2.81), [-3, -2, -1, 0, 1, 2], 0.15, 0.41,
              63, 53, 60, 27)
area(p1, TOP_EXCHANGE, BLUE_FILL)
r_pv1 = area(p1, TOP_PV_FEEDIN, RED)
r_load1 = area(p1, TOP_CONS_LOAD, DARK)
r_ex1 = p1.line(x="t", y="v", source=src(TOP_EXCHANGE), line_color=BLUE, line_width=4)
add_legend(p1, [LegendItem(label="Grid exchange", renderers=[r_ex1]),
                LegendItem(label="PV Grid feed-in", renderers=[r_pv1]),
                LegendItem(label="Grid cons load", renderers=[r_load1])],
           (214, 4), 290, 88, 36, 10)

# ---------------- panel 2 ----------------
p2 = make_fig(358, 17, 2854, 953, 270, (-4.60, 4.0), [-4, -2, 0, 2], 0.0, 0.38,
              63, 55, 38, 30)
area(p2, MID_EXCHANGE, BLUE_FILL)
area(p2, MID_CONS_HP, HP_GRAY)
area(p2, MID_CONS_EHEATER, DARK)
area(p2, MID_PV_FEEDIN, RED)
p2.line(x="t", y="v", source=src(MID_EXCHANGE), line_color=BLUE, line_width=4)
# zero-area legend swatches in the legend colours of the reference
r_hp_leg = p2.varea(x=[8.0, 8.0], y1=[0, 0], y2=[0, 0], fill_color=HP_GRAY)
r_eh_leg = p2.varea(x=[8.0, 8.0], y1=[0, 0], y2=[0, 0], fill_color=EH_GRAY)
add_legend(p2, [LegendItem(label="Grid cons HP", renderers=[r_hp_leg]),
                LegendItem(label="Grid cons E-heater", renderers=[r_eh_leg])],
           (98, 708), 340, 88, 12, 8)

# ---------------- panel 3 ----------------
p3 = make_fig(358, 14, 2854, 950, 280, (-4.77, 17.2), [0, 5, 10, 15], 0.4, 0.48,
              22, 57, 64, 33)
area(p3, BOT_TOTAL, BLUE_FILL)
r_pv3 = area(p3, BOT_PV_STACK_TOP, PV_RED)
r_chp = area(p3, BOT_CHP_FEEDIN, CHP_RED)
p3.line(x="t", y="v", source=src(BOT_TOTAL), line_color=BLUE, line_width=4)
add_legend(p3, [LegendItem(label="CHP- Grid feed-in", renderers=[r_chp]),
                LegendItem(label="PV- Grid feed-in", renderers=[r_pv3])],
           (94, 15), 340, 76, 15, 0)

layout = column(p1, p2, p3, spacing=0)
open("out.html", "w").write(file_html(layout, INLINE))
